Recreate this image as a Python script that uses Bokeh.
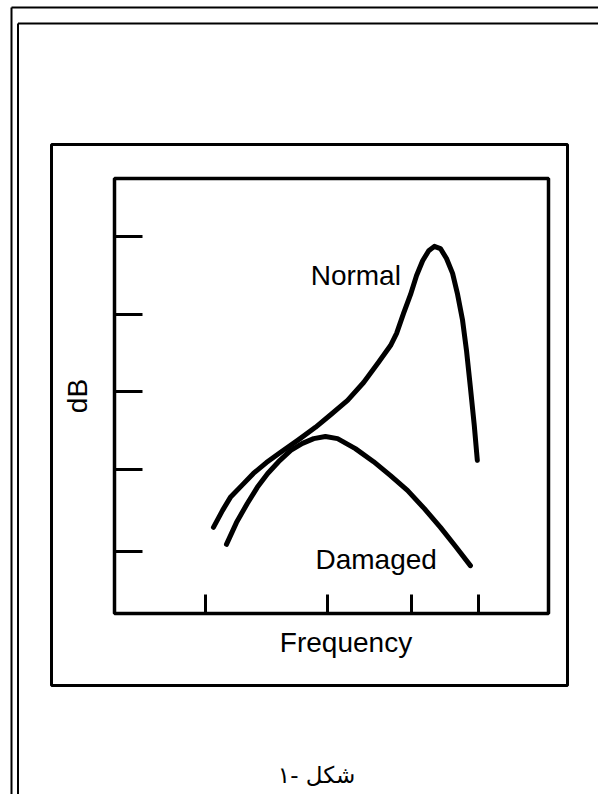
from bokeh.plotting import figure
from bokeh.models import Range1d, LinearAxis, FixedTicker, CustomJSTickFormatter
from bokeh.core.properties import value
from bokeh.embed import file_html
from bokeh.resources import INLINE

# ---------------- data (arbitrary units) ----------------
normal_freq = [22.8, 24.9, 26.7, 29.3, 32.0, 35.0, 38.2, 42.2, 46.3, 49.8,
               53.7, 57.4, 60.8, 63.6, 65.0, 66.6, 68.2, 69.6, 71.0, 72.4,
               73.7, 75.1, 76.5, 77.9, 79.0, 80.2, 81.1, 82.0, 82.9, 83.6]
normal_db = [19.8, 23.7, 26.7, 29.4, 32.2, 34.7, 37.0, 39.8, 42.8, 45.7,
             49.0, 53.1, 57.7, 61.6, 64.4, 69.0, 73.3, 77.7, 81.1, 83.4,
             84.4, 83.9, 81.6, 78.2, 73.6, 67.4, 60.5, 52.0, 43.2, 35.2]
damaged_freq = [25.8, 28.1, 30.6, 32.9, 35.3, 37.8, 40.6, 43.3, 45.9, 48.6,
                51.4, 55.5, 59.7, 63.6, 67.5, 71.4, 75.1, 78.6, 82.0]
damaged_db = [15.9, 20.9, 25.3, 29.0, 32.2, 34.9, 37.5, 39.1, 40.2, 40.7,
              40.2, 37.9, 34.9, 31.7, 28.3, 24.1, 19.8, 15.4, 11.0]
freq_ticks = [21.0, 49.1, 68.4, 83.9]
db_ticks = [14.3, 33.1, 51.0, 68.7, 86.7]
series_names = ["Normal", "Damaged"]
x_title = "Frequency"
y_title = "dB"
caption = "شکل -۱"

# ---------------- layout (canvas pixels) ----------------
W, H = 598, 794
BL, BT, BR, BB = 114, 178, 548, 613          # inner plot box
F0, F1, D0, D1 = 0.0, 100.0, 0.0, 100.0       # data extent of the inner box
fx = (BR - BL) / (F1 - F0)
fy = (BB - BT) / (D1 - D0)
freq_range = Range1d(F0 - BL / fx, F1 + (W - BR) / fx)
db_range = Range1d(D0 - (H - BB) / fy, D1 + BT / fy)

FONT = "Liberation Sans"

p = figure(width=W, height=H, x_range=Range1d(0, W), y_range=Range1d(H, 0),
           x_axis_type=None, y_axis_type=None, title=None,
           output_backend="svg", toolbar_location=None, min_border=0,
           outline_line_color=None, background_fill_color="white",
           border_fill_color="white")
p.extra_x_ranges = {"freq": freq_range}
p.extra_y_ranges = {"db": db_range}

# page frame lines (double line top and left)
p.segment(x0=[11, 17.5, 11, 17.5], y0=[7, 23, 7, 23], x1=[W, W, 11, 17.5], y1=[7, 23, H, H],
          line_width=2, line_color="black")
# middle box
p.quad(left=[51], right=[567], top=[144], bottom=[685], fill_color=None,
       line_color="black", line_width=3)

# inner plot box
p.quad(left=[F0], right=[F1], bottom=[D0], top=[D1], x_range_name="freq",
       y_range_name="db", fill_color=None, line_color="black", line_width=3.5)

# curves
for xs, ys in [(normal_freq, normal_db), (damaged_freq, damaged_db)]:
    p.line(xs, ys, x_range_name="freq", y_range_name="db", line_color="black",
           line_width=5, line_cap="round", line_join="round")

# series labels
p.text(x=[45.2, 46.3], y=[77.7, 12.4], text=series_names, x_range_name="freq",
       y_range_name="db", text_font=value(FONT), text_font_size="28px",
       text_align="left", text_baseline="alphabetic", text_color="black")

# axes
xaxis = LinearAxis(x_range_name="freq", y_range_name="db", fixed_location=0,
                   ticker=FixedTicker(ticks=freq_ticks, minor_ticks=[]),
                   bounds=(0, 106.6), axis_label=x_title)
yaxis = LinearAxis(x_range_name="freq", y_range_name="db", fixed_location=0,
                   ticker=FixedTicker(ticks=db_ticks, minor_ticks=[]),
                   bounds=(0, 100), axis_label=y_title)
for ax, tin in [(xaxis, 19), (yaxis, 28)]:
    ax.axis_line_color = None
    ax.major_tick_in = tin
    ax.major_tick_out = 0
    ax.major_tick_line_width = 3
    ax.major_tick_line_color = "black"
    ax.minor_tick_line_color = None
    ax.formatter = CustomJSTickFormatter(code="return ''")
    ax.major_label_text_color = None
    ax.major_label_standoff = 0
    ax.axis_label_text_font = FONT
    ax.axis_label_text_font_size = "28px"
    ax.axis_label_text_font_style = "normal"
    ax.axis_label_text_color = "black"
xaxis.axis_label_standoff = 13
yaxis.axis_label_standoff = 22
p.add_layout(xaxis, "below")
p.add_layout(yaxis, "left")

# caption
p.text(x=[316], y=[774], text=[caption], text_align="center", text_baseline="middle",
       text_font=value("DejaVu Sans"), text_font_size="23px", text_color="black")

open("out.html", "w").write(file_html(p, INLINE))
